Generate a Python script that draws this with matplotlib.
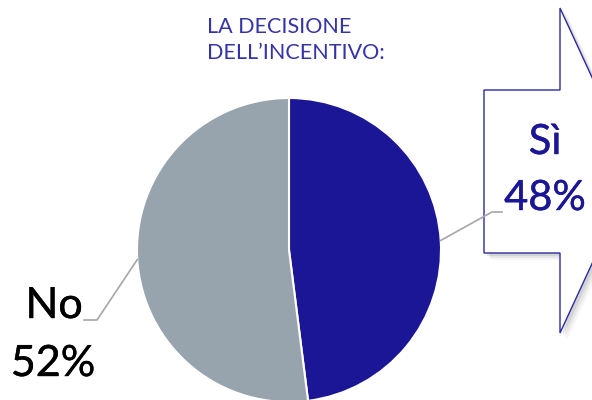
import numpy as np
import matplotlib
matplotlib.use("Agg")
from matplotlib import pyplot as plt
from matplotlib.patches import Polygon
import matplotlib.patheffects as pe

# data
labels = ["Sì", "No"]
shares = [48, 52]
colors = ["#1a1696", "#97a3ad"]
title = "LA DECISIONE\nDELL\u2019INCENTIVO:"

plt.rcParams['font.family'] = ['Lato', 'DejaVu Sans']

W, H = 592, 400
fig = plt.figure(figsize=(W / 100, H / 100), dpi=100)
ax = fig.add_axes([0, 0, 1, 1])

cx, cy, r = 289, H - 250, 152
wedges, _ = ax.pie(shares, colors=colors, startangle=90, counterclock=False,
                   center=(cx, cy), radius=r,
                   wedgeprops=dict(edgecolor="white", linewidth=1.5))
ax.set_xlim(0, W)
ax.set_ylim(0, H)
ax.set_aspect("equal")
ax.axis("off")

def py(y):
    return H - y

# callout arrow on the right, with soft shadow
pts = [(484, 90), (560, 90), (560, 8), (635, 170.5), (560, 333), (560, 253), (484, 253)]
for k, a in zip([7, 5, 3], [0.08, 0.12, 0.18]):
    sh = Polygon([(x + k, py(y + k)) for x, y in pts], closed=True,
                 facecolor="#808080", edgecolor="none", alpha=a)
    ax.add_patch(sh)
ax.add_patch(Polygon([(x, py(y)) for x, y in pts], closed=True,
                     facecolor="white", edgecolor="#2b2ba3", linewidth=1.0))

# leader lines from the middle of each wedge
def mid_point(w):
    ang = np.deg2rad((w.theta1 + w.theta2) / 2)
    return cx + r * np.cos(ang), cy + r * np.sin(ang)

x0, y0 = mid_point(wedges[0])
ax.plot([x0, 492, 502], [y0, py(212), py(212)], color="#a6a6a6", lw=1.2)
x1, y1 = mid_point(wedges[1])
ax.plot([x1, 97, 84], [y1, py(320), py(320)], color="#a6a6a6", lw=1.2)

# labels (a touch thicker than plain Lato)
def thick(c, w=0.3):
    return [pe.withStroke(linewidth=w, foreground=c)]

blue = "#1a1696"
ax.text(545, py(142), labels[0], color=blue, fontsize=30, ha="center", va="center",
        path_effects=thick(blue))
ax.text(545, py(198), f"{shares[0]}%", color=blue, fontsize=30, ha="center", va="center",
        path_effects=thick(blue))
ax.text(54, py(306), labels[1], color="black", fontsize=31, ha="center", va="center",
        path_effects=thick("black"))
ax.text(53, py(364), f"{shares[1]}%", color="black", fontsize=31, ha="center", va="center",
        path_effects=thick("black"))

ax.text(207, py(40), title, color="#3434a8", fontsize=15.5, ha="left", va="center",
        linespacing=1.4)

fig.savefig("out.png", dpi=100)
